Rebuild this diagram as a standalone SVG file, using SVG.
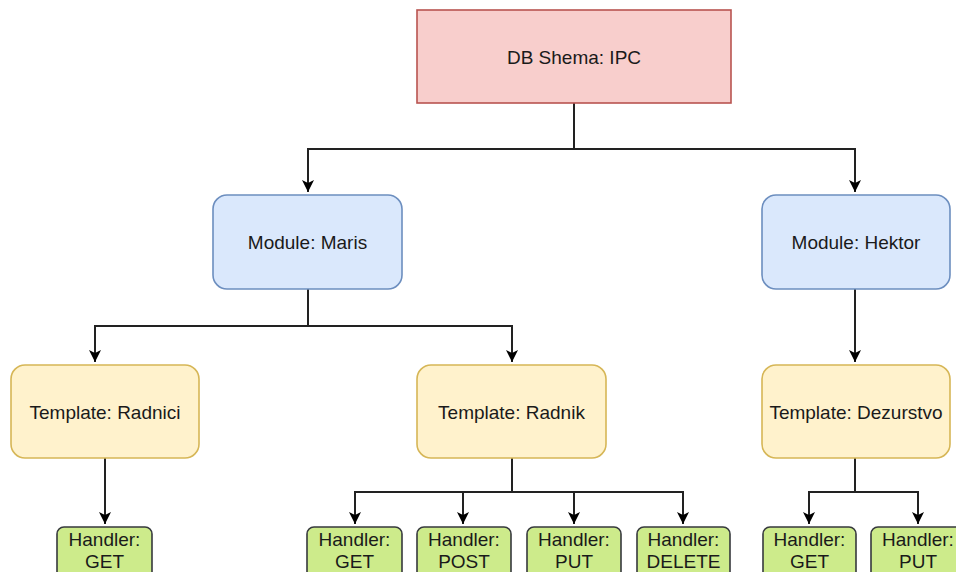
<svg xmlns="http://www.w3.org/2000/svg" width="956" height="572" viewBox="0 0 956 572">
<style>
text{font-family:"Liberation Sans",Arial,sans-serif;font-size:19px;fill:#1a1a1a;text-anchor:middle}
.root{fill:#f8cecc;stroke:#b85450;stroke-width:1.6}
.mod{fill:#dae8fc;stroke:#6c8ebf;stroke-width:1.6}
.tpl{fill:#fff2cc;stroke:#d6b656;stroke-width:1.6}
.h{fill:#cdeb8b;stroke:#36393d;stroke-width:1.6}
.c{fill:none;stroke:#222;stroke-width:2}
</style>
<defs>
<marker id="ar" markerUnits="userSpaceOnUse" markerWidth="14" markerHeight="14" viewBox="0 0 14 14" refX="13" refY="7" orient="auto">
<path d="M1,1 L13,7 L1,13 L4,7 Z" fill="#000"/>
</marker>
</defs>
<g id="connectors">
<path class="c" d="M574,103 V149 H308 V192" marker-end="url(#ar)"/>
<path class="c" d="M574,149 H855 V192" marker-end="url(#ar)"/>
<path class="c" d="M308,289 V326 H95 V362" marker-end="url(#ar)"/>
<path class="c" d="M308,326 H512 V362" marker-end="url(#ar)"/>
<path class="c" d="M855,289 V362" marker-end="url(#ar)"/>
<path class="c" d="M105,458 V524" marker-end="url(#ar)"/>
<path class="c" d="M512,458 V492 H355 V524" marker-end="url(#ar)"/>
<path class="c" d="M463,492 V524" marker-end="url(#ar)"/>
<path class="c" d="M512,492 H574 V524" marker-end="url(#ar)"/>
<path class="c" d="M574,492 H683 V524" marker-end="url(#ar)"/>
<path class="c" d="M855,458 V492 H809 V524" marker-end="url(#ar)"/>
<path class="c" d="M855,492 H918 V524" marker-end="url(#ar)"/>
</g>
<g id="root"><rect class="root" x="417" y="10" width="314" height="93"/><text x="574" y="64">DB Shema: IPC</text></g>
<g id="maris"><rect class="mod" x="213" y="195" width="189" height="94" rx="14"/><text x="307.5" y="249">Module: Maris</text></g>
<g id="hektor"><rect class="mod" x="762" y="195" width="188" height="94" rx="14"/><text x="856" y="249">Module: Hektor</text></g>
<g id="radnici"><rect class="tpl" x="11" y="365" width="188" height="93" rx="14"/><text x="105" y="419">Template: Radnici</text></g>
<g id="radnik"><rect class="tpl" x="417" y="365" width="189" height="93" rx="14"/><text x="511.5" y="419">Template: Radnik</text></g>
<g id="dezurstvo"><rect class="tpl" x="762" y="365" width="188" height="93" rx="14"/><text x="856" y="419">Template: Dezurstvo</text></g>
<g id="h-radnici-get"><rect class="h" x="57" y="527" width="95" height="60" rx="7"/><text x="104.5" y="546">Handler:</text><text x="104.5" y="568">GET</text></g>
<g id="h-radnik-get"><rect class="h" x="307" y="527" width="95" height="60" rx="7"/><text x="354.5" y="546">Handler:</text><text x="354.5" y="568">GET</text></g>
<g id="h-radnik-post"><rect class="h" x="417" y="527" width="94" height="60" rx="7"/><text x="464" y="546">Handler:</text><text x="464" y="568">POST</text></g>
<g id="h-radnik-put"><rect class="h" x="527" y="527" width="94" height="60" rx="7"/><text x="574" y="546">Handler:</text><text x="574" y="568">PUT</text></g>
<g id="h-radnik-delete"><rect class="h" x="637" y="527" width="93" height="60" rx="7"/><text x="683.5" y="546">Handler:</text><text x="683.5" y="568">DELETE</text></g>
<g id="h-dez-get"><rect class="h" x="763" y="527" width="93" height="60" rx="7"/><text x="809.5" y="546">Handler:</text><text x="809.5" y="568">GET</text></g>
<g id="h-dez-put"><rect class="h" x="871" y="527" width="94" height="60" rx="7"/><text x="918" y="546">Handler:</text><text x="918" y="568">PUT</text></g>
</svg>
